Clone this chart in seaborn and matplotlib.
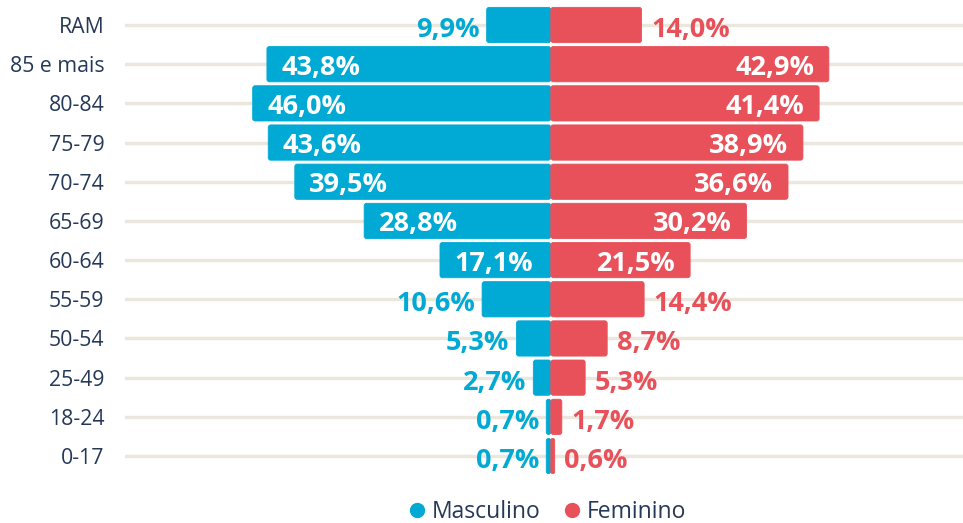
import matplotlib
matplotlib.use("Agg")
import matplotlib.pyplot as plt
from matplotlib.lines import Line2D
from matplotlib.patches import FancyBboxPatch
import seaborn as sns
import pandas as pd

categories = ["RAM", "85 e mais", "80-84", "75-79", "70-74", "65-69",
              "60-64", "55-59", "50-54", "25-49", "18-24", "0-17"]
masculino = [9.9, 43.8, 46.0, 43.6, 39.5, 28.8, 17.1, 10.6, 5.3, 2.7, 0.7, 0.7]
feminino = [14.0, 42.9, 41.4, 38.9, 36.6, 30.2, 21.5, 14.4, 8.7, 5.3, 1.7, 0.6]
series_names = ["Masculino", "Feminino"]

BLUE = "#00AAD4"
RED = "#E8515A"
NAVY = "#253858"
GRID = "#ECE7DC"

sns.set_theme(style="white")
plt.rcParams["font.family"] = ["Open Sans", "DejaVu Sans"]

df = pd.DataFrame({
    "cat": categories * 2,
    "sex": [series_names[0]] * len(categories) + [series_names[1]] * len(categories),
    "value": masculino + feminino,
})
df["signed"] = [-v if s == series_names[0] else v for v, s in zip(df["value"], df["sex"])]

fig = plt.figure(figsize=(9.63, 5.23), dpi=100)
ax = fig.add_axes([125 / 963, 1 - 475.6 / 523, (963 - 125) / 963, (475.6 - 5.4) / 523])

for i in range(len(categories)):
    ax.axhline(i, color=GRID, lw=2.4, zorder=0)

sns.barplot(data=df, x="signed", y="cat", hue="sex", order=categories,
            palette={series_names[0]: BLUE, series_names[1]: RED},
            dodge=False, width=0.9, orient="h", legend=False, ax=ax,
            saturation=1, zorder=2)

XMIN, XMAX = -65.7, 63.6
ax.set_xlim(XMIN, XMAX)
ax.set_ylim(len(categories) - 0.5, -0.5)

# rounded corners for bars
axw_px = (963 - 125)
pxx = axw_px / (XMAX - XMIN)
pxy = (475.6 - 5.4) / len(categories)
for p in list(ax.patches):
    x, y = p.get_x(), p.get_y()
    w, h = p.get_width(), p.get_height()
    x0, w0 = (x, w) if w >= 0 else (x + w, -w)
    y0, h0 = (y, h) if h >= 0 else (y + h, -h)
    r = min(2.5 / pxx, w0 / 2)
    fb = FancyBboxPatch((x0, y0), w0, h0,
                        boxstyle=f"round,pad=0,rounding_size={r}",
                        mutation_aspect=pxx / pxy,
                        facecolor=p.get_facecolor(), edgecolor=p.get_facecolor(),
                        lw=0.6, zorder=2)
    p.set_visible(False)
    ax.add_patch(fb)

ax.set_xlabel("")
ax.set_ylabel("")
ax.set_xticks([])
for s in ax.spines.values():
    s.set_visible(False)
ax.tick_params(axis="y", length=0, pad=15, labelsize=15.3, labelcolor=NAVY)

def fmt(v):
    return f"{v:.1f}%".replace(".", ",")

THR = 16
FS = 19.5
for i, (m, f) in enumerate(zip(masculino, feminino)):
    if m >= THR:
        ax.annotate(fmt(m), (-m, i), xytext=(10.5, -2.5), textcoords="offset points",
                    ha="left", va="center", color="white", fontsize=FS,
                    fontweight="bold", zorder=5)
    else:
        ax.annotate(fmt(m), (-m, i), xytext=(-5, -3.5), textcoords="offset points",
                    ha="right", va="center", color=BLUE, fontsize=FS,
                    fontweight="bold", zorder=5)
    if f >= THR:
        ax.annotate(fmt(f), (f, i), xytext=(-10.5, -2.5), textcoords="offset points",
                    ha="right", va="center", color="white", fontsize=FS,
                    fontweight="bold", zorder=5)
    else:
        ax.annotate(fmt(f), (f, i), xytext=(7, -3.5), textcoords="offset points",
                    ha="left", va="center", color=RED, fontsize=FS,
                    fontweight="bold", zorder=5)

handles = [Line2D([], [], marker="o", ls="", color=BLUE, markersize=10),
           Line2D([], [], marker="o", ls="", color=RED, markersize=10)]
fig.legend(handles, series_names, loc="center", bbox_to_anchor=(546 / 963, 11 / 523),
           ncol=2, frameon=False, fontsize=16.5, handlelength=1.0,
           handletextpad=0.15, columnspacing=0.85, labelcolor=NAVY,
           borderpad=0.1)

fig.savefig("out.png", dpi=100)
